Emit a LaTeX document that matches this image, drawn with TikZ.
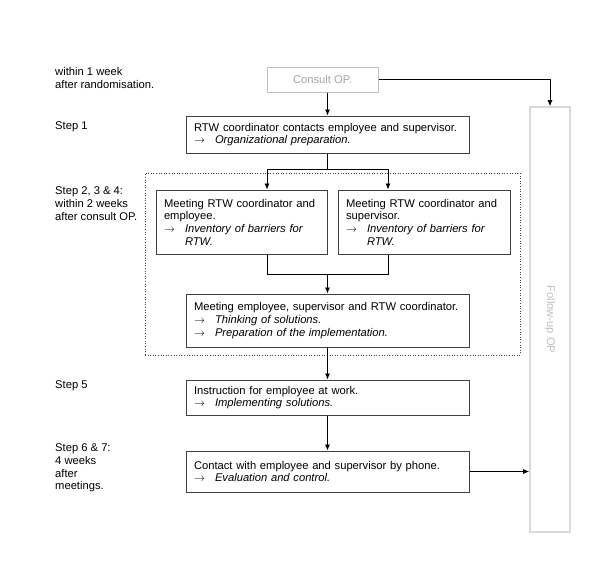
\documentclass[tikz,border=0pt]{standalone}
\usepackage{fontspec}
\setmainfont{Liberation Sans}
\usetikzlibrary{arrows.meta}

\definecolor{boxline}{HTML}{404040}
\definecolor{opline}{HTML}{BFBFBF}
\definecolor{optext}{HTML}{A6A6A6}
\definecolor{followline}{HTML}{D9D9D9}
\definecolor{followtext}{HTML}{BFBFBF}

\newcommand{\mainfont}{\fontsize{11.2}{12.7}\selectfont}
\newcommand{\goal}[1]{\makebox[21pt][l]{$\rightarrow$}\textit{#1}}

\tikzset{
    stepbox/.style={draw=boxline, line width=1pt, align=left, inner xsep=8pt, inner ysep=0pt, font=\mainfont},
    opbox/.style={draw=opline, line width=1pt, text=optext, align=left, inner xsep=8pt, inner ysep=0pt, font=\mainfont},
    followbox/.style={draw=followline, line width=1.6pt, text=followtext, inner sep=0pt, font=\mainfont},
    steplabel/.style={anchor=west, align=left, inner sep=0pt, font=\mainfont},
    arr/.style={-{Latex[length=6pt,width=5pt]}, line width=0.8pt},
    link/.style={line width=0.8pt}
}

\begin{document}
\begin{tikzpicture}[x=1pt, y=-1pt]
                \useasboundingbox (0, 0) rectangle (600, 570);

                % --------
                % Labels
                % --------
                \node[steplabel] at (55, 78) (lblconsult) {within 1 week\\after randomisation.};
                \node[steplabel] at (55, 127) (lblstep1) {Step 1};
                \node[steplabel] at (55, 203.5) (lblstep2) {Step 2, 3 \& 4:\\within 2 weeks\\after consult OP.};
                \node[steplabel] at (55, 386) (lblstep5) {Step 5};
                \node[steplabel] at (55, 468) (lblstep6) {Step 6 \& 7:\\4 weeks\\after\\meetings.};

                % --------
                % Boxes
                % --------
                \node[opbox, minimum width=111pt, minimum height=25pt] at (322.5, 79.5) (consult) {Consult OP.};

                \node[stepbox, text width=267pt, minimum height=37pt] at (327.5, 134.5) (rtw)
                    {RTW coordinator contacts employee and supervisor.\\\goal{Organizational preparation.}};

                \node[draw=boxline, dotted, line width=0.6pt, minimum width=375pt, minimum height=182pt] at (332.5, 264) (meetings) {};

                \node[stepbox, text width=155pt, minimum height=64pt] at (241.5, 222) (meet1)
                    {Meeting RTW coordinator and\\employee.\\\goal{Inventory of barriers for}\\\hspace*{21pt}\textit{RTW.}};
                \node[stepbox, text width=156pt, minimum height=64pt] at (424, 222) (meet2)
                    {Meeting RTW coordinator and\\supervisor.\\\goal{Inventory of barriers for}\\\hspace*{21pt}\textit{RTW.}};

                \node[stepbox, text width=267pt, minimum height=53pt] at (327.5, 320.5) (meet3)
                    {Meeting employee, supervisor and RTW coordinator.\\\goal{Thinking of solutions.}\\\goal{Preparation of the implementation.}};

                \node[stepbox, text width=267pt, minimum height=35pt] at (327.5, 397.5) (instr)
                    {Instruction for employee at work.\\\goal{Implementing solutions.}};

                \node[stepbox, text width=267pt, minimum height=41pt] at (327.5, 471.5) (contact)
                    {Contact with employee and supervisor by phone.\\\goal{Evaluation and control.}};

                \node[followbox, minimum width=40pt, minimum height=425pt] at (550, 319.5) (followup)
                    {\rotatebox{-90}{Follow-up OP}};

                % Junctions
                \coordinate (splitL) at (267, 169);
                \coordinate (splitR) at (388, 169);
                \coordinate (mergeL) at (267, 274);
                \coordinate (mergeR) at (388, 274);

                % Draw line
                \draw[arr] (consult.south -| rtw.north) -- (rtw.north);
                \draw[arr] (consult.east) -| (followup.north);
                \draw[link] (rtw.south) -- (rtw.south |- splitL);
                \draw[link] (splitL) -- (splitR);
                \draw[arr] (splitL) -- (splitL |- meet1.north);
                \draw[arr] (splitR) -- (splitR |- meet2.north);
                \draw[link] (meet1.south -| mergeL) -- (mergeL) -- (mergeR) -- (meet2.south -| mergeR);
                \draw[arr] (meet3.north |- mergeL) -- (meet3.north);
                \draw[arr] (meet3.south) -- (instr.north);
                \draw[arr] (instr.south) -- (contact.north);
                \draw[arr] (contact.east) -- (contact.east -| followup.west);

            \end{tikzpicture}
\end{document}
